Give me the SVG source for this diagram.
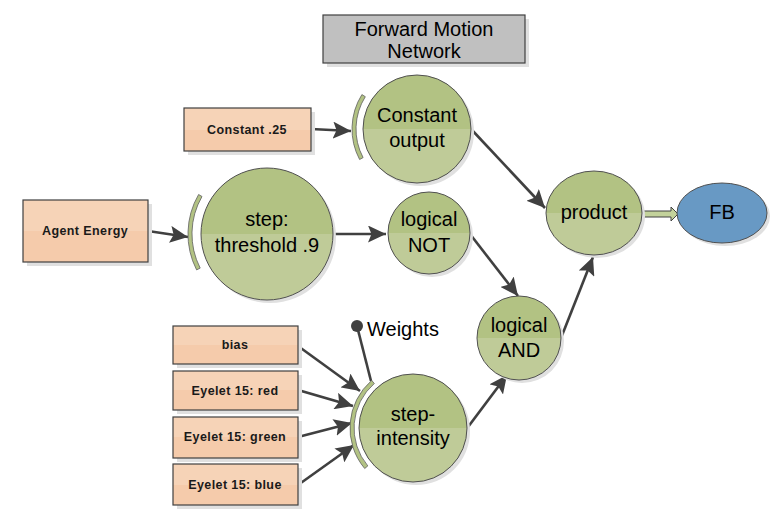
<svg xmlns="http://www.w3.org/2000/svg" width="780" height="521" viewBox="0 0 780 521">
<defs>
<linearGradient id="gGreen" x1="0" y1="0" x2="0" y2="1">
<stop offset="0" stop-color="#b2c283"/><stop offset="0.5" stop-color="#b2c283"/><stop offset="0.5" stop-color="#bfcb98"/><stop offset="1" stop-color="#bfcb98"/>
</linearGradient>
<linearGradient id="gPeach" x1="0" y1="0" x2="0" y2="1">
<stop offset="0" stop-color="#f6d3b7"/><stop offset="0.5" stop-color="#f6d3b7"/><stop offset="0.5" stop-color="#f5cbab"/><stop offset="1" stop-color="#f5cbab"/>
</linearGradient>
<marker id="ah" markerUnits="userSpaceOnUse" markerWidth="19" markerHeight="17" refX="18" refY="8.5" orient="auto">
<path d="M0,0 L18,8.5 L0,17 L3.5,8.5 Z" fill="#404040"/>
</marker>
</defs>
<style>
.sh{fill:#e0e0e0}
.box{fill:url(#gPeach);stroke:#404040;stroke-width:1.2}
.circ{fill:url(#gGreen);stroke:#505050;stroke-width:1}
.arc{fill:#b2c283;stroke:#606060;stroke-width:0.8}
.lbl{font-family:"Liberation Sans",Arial,sans-serif;font-size:12.5px;font-weight:bold;fill:#1a1a1a;text-anchor:middle;letter-spacing:0.4px}
.big{font-family:"Liberation Sans",Arial,sans-serif;font-size:20px;fill:#000;text-anchor:middle}
.con{stroke:#404040;stroke-width:2.6;fill:none;marker-end:url(#ah)}
</style>

<g id="title">
<rect x="327" y="19" width="202" height="48" class="sh"/>
<rect x="323" y="15" width="202" height="48" fill="#c0c0c0" stroke="#404040" stroke-width="1.2"/>
<text x="424" y="36" class="big">Forward Motion</text>
<text x="424" y="58" class="big">Network</text>
</g>

<g id="connectors">
<line x1="311" y1="129" x2="351" y2="131" class="con"/>
<line x1="148" y1="231" x2="188" y2="237" class="con"/>
<line x1="333" y1="234" x2="386" y2="234" class="con"/>
<line x1="471" y1="129" x2="545" y2="208" class="con"/>
<line x1="470" y1="234" x2="518" y2="296" class="con"/>
<line x1="561" y1="338" x2="593" y2="257" class="con"/>
<line x1="468" y1="427" x2="507" y2="375" class="con"/>
<line x1="298" y1="346" x2="360" y2="391" class="con"/>
<line x1="298" y1="390" x2="353" y2="406" class="con"/>
<line x1="298" y1="437" x2="352" y2="423" class="con"/>
<line x1="298" y1="485" x2="354" y2="445" class="con"/>
<line x1="357" y1="326" x2="371" y2="381" stroke="#404040" stroke-width="2.6"/>
<circle cx="357" cy="326" r="6" fill="#404040"/>
<path d="M642,211 L671,211 L671,207 L678,214 L671,221 L671,217 L642,217 Z" fill="#c3d29b" stroke="#404040" stroke-width="1"/>
</g>

<g id="weights">
<text x="367" y="336" class="big" style="text-anchor:start">Weights</text>
</g>

<g id="constant25">
<rect x="188" y="112" width="127" height="43" class="sh"/>
<rect x="184" y="108" width="127" height="43" class="box"/>
<text x="247" y="134" class="lbl">Constant .25</text>
</g>

<g id="agentEnergy">
<rect x="27" y="204" width="125" height="62" class="sh"/>
<rect x="23" y="200" width="125" height="62" class="box"/>
<text x="85" y="235" class="lbl">Agent Energy</text>
</g>

<g id="bias">
<rect x="177" y="330" width="125" height="38" class="sh"/>
<rect x="173" y="326" width="125" height="38" class="box"/>
<text x="235" y="349" class="lbl">bias</text>
</g>

<g id="red">
<rect x="177" y="375" width="125" height="39" class="sh"/>
<rect x="173" y="371" width="125" height="39" class="box"/>
<text x="235" y="395" class="lbl">Eyelet 15: red</text>
</g>

<g id="green">
<rect x="177" y="421" width="125" height="41" class="sh"/>
<rect x="173" y="417" width="125" height="41" class="box"/>
<text x="235" y="441" class="lbl">Eyelet 15: green</text>
</g>

<g id="blue">
<rect x="177" y="468" width="125" height="41" class="sh"/>
<rect x="173" y="464" width="125" height="41" class="box"/>
<text x="235" y="489" class="lbl">Eyelet 15: blue</text>
</g>

<g id="constantOutput">
<circle cx="420" cy="132" r="54" class="sh"/>
<circle cx="417" cy="129" r="54" class="circ"/>
<path d="M361.9,94.6 A65,65 0 0 0 359.6,159.5 L363.1,157.6 A61,61 0 0 1 365.3,96.7 Z" class="arc"/>
<text x="417" y="122" class="big">Constant</text>
<text x="417" y="147" class="big">output</text>
</g>

<g id="threshold">
<circle cx="270" cy="237" r="66" class="sh"/>
<circle cx="267" cy="234" r="66" class="circ"/>
<path d="M198.6,194.5 A79,79 0 0 0 196.6,269.9 L200.2,268.1 A75,75 0 0 1 202,196.5 Z" class="arc"/>
<text x="267" y="226" class="big">step:</text>
<text x="267" y="252" class="big">threshold .9</text>
</g>

<g id="logicalNot">
<circle cx="432" cy="236" r="41" class="sh"/>
<circle cx="429" cy="233" r="41" class="circ"/>
<text x="429" y="226" class="big">logical</text>
<text x="429" y="252" class="big">NOT</text>
</g>

<g id="stepIntensity">
<circle cx="416" cy="431" r="54" class="sh"/>
<circle cx="413" cy="428" r="54" class="circ"/>
<path d="M371.7,380.4 A63,63 0 0 0 364.7,468.5 L367.8,465.9 A59,59 0 0 1 374.3,383.5 Z" class="arc"/>
<text x="413" y="421" class="big">step-</text>
<text x="413" y="445" class="big">intensity</text>
</g>

<g id="logicalAnd">
<circle cx="522" cy="341" r="42" class="sh"/>
<circle cx="519" cy="338" r="42" class="circ"/>
<text x="519" y="332" class="big">logical</text>
<text x="519" y="357" class="big">AND</text>
</g>

<g id="product">
<ellipse cx="597" cy="216" rx="48" ry="42" class="sh"/>
<ellipse cx="594" cy="213" rx="48" ry="42" class="circ"/>
<text x="594" y="219" class="big">product</text>
</g>

<g id="fb">
<ellipse cx="725" cy="216" rx="45" ry="30" class="sh"/>
<ellipse cx="722" cy="213" rx="45" ry="30" fill="#6899c4" stroke="#505050" stroke-width="1"/>
<text x="722" y="219" class="big">FB</text>
</g>
</svg>
